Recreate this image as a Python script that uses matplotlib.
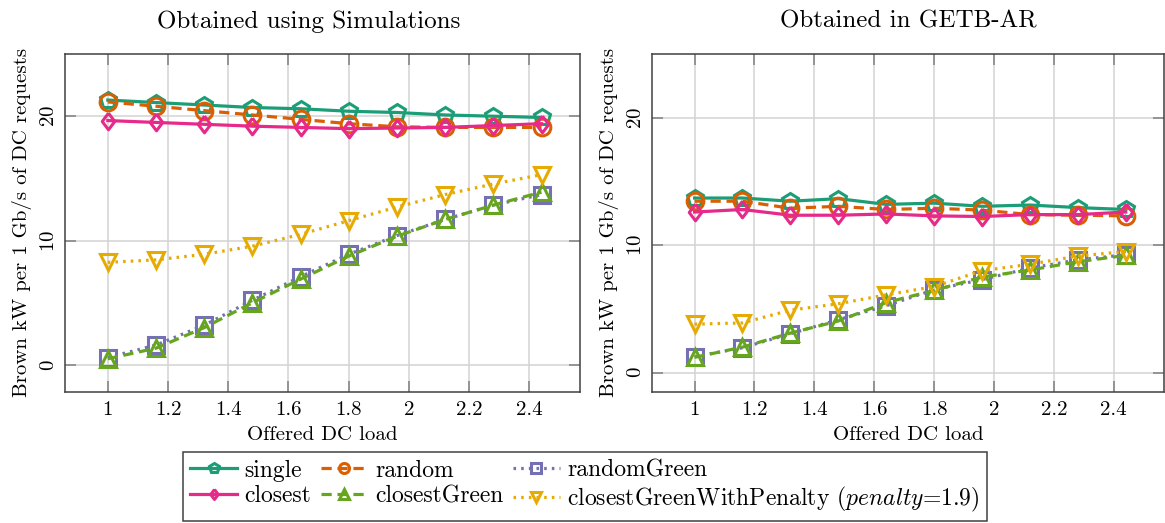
import matplotlib.pyplot as plt

plt.rcParams['font.family'] = 'cmr10'
plt.rcParams['mathtext.fontset'] = 'cm'
plt.rcParams['axes.formatter.use_mathtext'] = True
plt.rcParams['font.size'] = 15

# offered DC load (x positions)
load = [1.0, 1.16, 1.32, 1.48, 1.64, 1.80, 1.96, 2.12, 2.28, 2.44]

# left panel: simulations
sim_single = [21.3, 21.1, 20.9, 20.7, 20.6, 20.4, 20.3, 20.1, 20.0, 19.9]
sim_random = [21.15, 20.8, 20.45, 20.1, 19.75, 19.4, 19.15, 19.1, 19.1, 19.1]
sim_randomGreen = [0.6, 1.6, 3.2, 5.2, 7.1, 8.9, 10.4, 11.7, 12.85, 13.7]
sim_closest = [19.65, 19.5, 19.35, 19.2, 19.1, 19.0, 19.05, 19.1, 19.25, 19.4]
sim_closestGreen = [0.5, 1.35, 3.0, 5.0, 6.9, 8.75, 10.35, 11.7, 12.85, 13.9]
sim_penalty = [8.25, 8.45, 8.9, 9.55, 10.5, 11.6, 12.7, 13.7, 14.55, 15.3]

# right panel: GETB-AR
getb_single = [13.7, 13.7, 13.45, 13.65, 13.2, 13.3, 13.05, 13.15, 12.95, 12.8]
getb_random = [13.45, 13.45, 12.9, 13.05, 12.8, 12.9, 12.75, 12.4, 12.35, 12.3]
getb_randomGreen = [1.25, 1.95, 3.05, 4.15, 5.25, 6.5, 7.3, 8.2, 8.85, 9.25]
getb_closest = [12.6, 12.8, 12.35, 12.35, 12.45, 12.3, 12.25, 12.4, 12.4, 12.6]
getb_closestGreen = [1.2, 2.0, 3.1, 4.05, 5.5, 6.45, 7.5, 8.05, 8.7, 9.2]
getb_penalty = [3.8, 3.9, 4.9, 5.4, 6.1, 6.75, 8.0, 8.5, 9.15, 9.5]

names = ['single', 'random', 'randomGreen', 'closest', 'closestGreen',
         'closestGreenWithPenalty ($penalty$=1.9)']
colors = ['#1b9e77', '#d95f02', '#7570b3', '#e7298a', '#66a61e', '#e6ab02']
diamond = [(0, 1), (0.75, 0), (0, -1), (-0.75, 0), (0, 1)]
markers = ['p', 'o', 's', diamond, '^', 'v']
styles = ['-', (0, (3.2, 1.8)), (0, (0.8, 1.6)), '-', (0, (3.2, 1.8)), (0, (0.8, 1.6))]

sim = [sim_single, sim_random, sim_randomGreen, sim_closest, sim_closestGreen, sim_penalty]
getb = [getb_single, getb_random, getb_randomGreen, getb_closest, getb_closestGreen, getb_penalty]

fig = plt.figure(figsize=(11.65, 5.23), dpi=100)
ax1 = fig.add_axes([0.0558, 0.251, 0.4421, 0.6457])
ax2 = fig.add_axes([0.5597, 0.251, 0.4395, 0.6457])

handles = []
for ax, data, title, ylim, tx in [(ax1, sim, 'Obtained using Simulations', (-2.15, 25), 0.474),
                                  (ax2, getb, 'Obtained in GETB-AR', (-1.5, 25), 0.5)]:
    hs = []
    for vals, name, c, m, ls in zip(data, names, colors, markers, styles):
        h, = ax.plot(load, vals, color=c, marker=m, linestyle=ls, linewidth=2.3,
                     markersize=12, markeredgewidth=2.2, markerfacecolor='none',
                     label=name)
        hs.append(h)
    handles = hs
    ax.set_xlim(0.858, 2.568)
    ax.set_ylim(*ylim)
    ax.set_xticks([1, 1.2, 1.4, 1.6, 1.8, 2, 2.2, 2.4])
    ax.set_xticklabels(['1', '1.2', '1.4', '1.6', '1.8', '2', '2.2', '2.4'])
    ax.set_yticks([0, 10, 20])
    ax.grid(True, color='#d3d3d3', linewidth=1.1)
    ax.set_axisbelow(True)
    ax.tick_params(direction='in', length=8, width=1.1, color='#808080',
                   top=True, right=True, pad=7)
    ax.tick_params(axis='y', labelrotation=90, pad=5)
    for lab in ax.get_yticklabels():
        lab.set_va('center')
    for s in ax.spines.values():
        s.set_color('#404040')
        s.set_linewidth(1.1)
    ax.set_xlabel('Offered DC load', labelpad=5)
    ax.set_ylabel('Brown kW per 1 Gb/s of DC requests', labelpad=6)
    ax.set_title(title, pad=19, x=tx)

# legend rows: single random randomGreen / closest closestGreen penalty
order = [0, 3, 1, 4, 2, 5]
leg = fig.legend([handles[i] for i in order], [names[i] for i in order],
                 loc='center', bbox_to_anchor=(0.502, 0.069), ncol=3,
                 fontsize=17, fancybox=False, framealpha=1, edgecolor='#404040',
                 markerscale=0.6, handlelength=2.0, handletextpad=0.3,
                 columnspacing=0.4, labelspacing=0.15, borderpad=0.3)
leg.get_frame().set_linewidth(1.1)

fig.savefig('out.png', dpi=100)
